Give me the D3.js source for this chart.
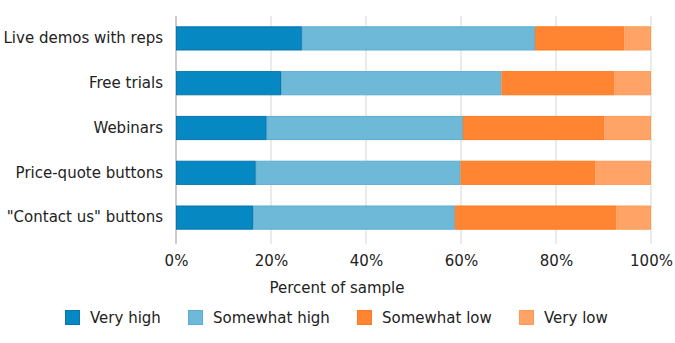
<!DOCTYPE html>
<html><head><meta charset="utf-8">
<script src="https://cdn.jsdelivr.net/npm/d3@7"></script>
<style>body{margin:0;background:#fff;} text{font-family:"DejaVu Sans",Verdana,sans-serif;fill:#222;}</style>
</head><body><svg id="c" width="675" height="343"></svg>
<script>
const categories = ["Live demos with reps","Free trials","Webinars","Price-quote buttons","\"Contact us\" buttons"];
const seriesNames = ["Very high","Somewhat high","Somewhat low","Very low"];
const veryHigh = [26.5, 22.1, 19.1, 16.8, 16.2];
const somewhatHigh = [49.1, 46.4, 41.3, 43.1, 42.5];
const somewhatLow = [18.8, 23.8, 29.8, 28.4, 34.0];
const veryLow = [5.6, 7.7, 9.8, 11.7, 7.3];
const tickValues = [0, 20, 40, 60, 80, 100];
const colors = ["#0689c3", "#6fb9d8", "#ff8533", "#ffa366"];
const strokes = ["#0a74ab", "#5aaed3", "#ff7a1f", "#ff9a55"];

const svg = d3.select("#c");
const m = {left:176, right:24, top:16, bottom:103};
const W = 675 - m.left - m.right, H = 343 - m.top - m.bottom;
const g = svg.append("g").attr("transform", `translate(${m.left},${m.top})`);

const x = d3.scaleLinear().domain([0,100]).range([0, W]);
const y = d3.scaleBand().domain(categories).range([0, H]).paddingInner(0.46).paddingOuter(0.23);

const rows = categories.map((c,i)=>({cat:c, "Very high":veryHigh[i], "Somewhat high":somewhatHigh[i], "Somewhat low":somewhatLow[i], "Very low":veryLow[i]}));
const stacked = d3.stack().keys(seriesNames)(rows);

// grid
g.append("g").selectAll("line").data(tickValues).join("line")
  .attr("x1", d=>x(d)).attr("x2", d=>x(d)).attr("y1", 0).attr("y2", H+4)
  .attr("stroke", d=> d===0 ? "#bbb" : "#d6d6d6").attr("stroke-width", d=> d===0?1.5:1);

// bars
stacked.forEach((s,k)=>{
  g.append("g").selectAll("rect").data(s).join("rect")
    .attr("x", d=>x(d[0])+0.5).attr("y", d=>y(d.data.cat)+0.5)
    .attr("width", d=>Math.max(0, x(d[1])-x(d[0])-1)).attr("height", y.bandwidth()-1)
    .attr("fill", colors[k]).attr("stroke", strokes[k]).attr("stroke-width", 1);
});

// x axis labels
const xa = g.append("g").attr("transform", `translate(0,${H})`)
  .call(d3.axisBottom(x).tickValues(tickValues).tickFormat(d=>d+"%").tickSize(0).tickPadding(15));
xa.select(".domain").remove();
xa.selectAll("text").style("font-size","15px").attr("fill","#222");

// y labels
const ya = g.append("g").call(d3.axisLeft(y).tickSize(0).tickPadding(13));
ya.select(".domain").remove();
ya.selectAll("text").style("font-size","15px").attr("fill","#222");

// axis title
svg.append("text").attr("x", 337).attr("y", 293).attr("text-anchor","middle")
  .style("font-size","15px").text("Percent of sample");

// legend
const legX = [65, 188, 357, 519];
const leg = svg.append("g");
seriesNames.forEach((n,i)=>{
  leg.append("rect").attr("x", legX[i]+0.5).attr("y", 310.5).attr("width", 14).attr("height", 14)
    .attr("fill", colors[i]).attr("stroke", strokes[i]);
  leg.append("text").attr("x", legX[i]+25).attr("y", 323).style("font-size","15px").text(n);
});
</script></body></html>
